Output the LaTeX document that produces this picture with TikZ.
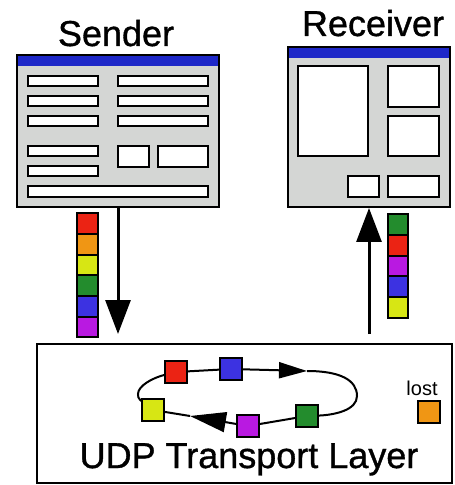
\documentclass[tikz,border=0pt]{standalone}
\usepackage{fontspec}
\setmainfont{Liberation Sans}
\usetikzlibrary{arrows.meta,positioning}

\definecolor{wingray}{RGB}{212,214,212}
\definecolor{barblue}{RGB}{30,40,200}
\definecolor{pred}{RGB}{235,35,20}
\definecolor{porange}{RGB}{240,150,20}
\definecolor{pyellow}{RGB}{215,230,20}
\definecolor{pgreen}{RGB}{35,140,45}
\definecolor{pblue}{RGB}{60,50,225}
\definecolor{ppurple}{RGB}{185,25,225}

\tikzset{
  win/.style={draw,fill=wingray,line width=1pt,inner sep=0pt,
    path picture={\fill[barblue] (path picture bounding box.north west)
      rectangle ([yshift=-5.5pt]path picture bounding box.north east);}},
  field/.style={draw,fill=white,line width=1pt},
  pkt/.style={draw,line width=1pt,minimum size=10.35pt,inner sep=0pt,outer sep=0pt},
  rpkt/.style={pkt,minimum size=11pt},
  flow/.style={line width=1.5pt,-{Triangle[length=17pt,width=12.5pt]}},
  ring/.style={line width=1pt},
  ringtip/.style={ring,-{Triangle[length=14pt,width=8pt]}},
  title/.style={font=\fontsize{18}{20}\selectfont\addfontfeature{FakeBold=1},anchor=base},
}

\begin{document}
\begin{tikzpicture}[x=0.5pt,y=-0.5pt]
\useasboundingbox (0,0) rectangle (454,485);

% sender window
\node[title] (sndlbl) at (116,46) {Sender};
\node[win,minimum width=101pt,minimum height=76pt] (sndwin) at (118,131) {};
\draw[field] (28,76) rectangle (98,86);
\draw[field] (118,76) rectangle (208,86);
\draw[field] (28,96) rectangle (98,106);
\draw[field] (118,96) rectangle (208,106);
\draw[field] (28,116) rectangle (98,126);
\draw[field] (118,116) rectangle (208,126);
\draw[field] (28,146) rectangle (98,156);
\draw[field] (118,146) rectangle (149,167);
\draw[field] (158,146) rectangle (208,167);
\draw[field] (28,166) rectangle (98,176);
\draw[field] (28,186) rectangle (208,197);

% receiver window
\node[title] (rcvlbl) at (373,36) {Receiver};
\node[win,minimum width=81pt,minimum height=80pt] (rcvwin) at (369,127) {};
\draw[field] (298,66) rectangle (368,156);
\draw[field] (388,66) rectangle (439,107);
\draw[field] (388,116) rectangle (439,156);
\draw[field] (348,176) rectangle (379,197);
\draw[field] (388,176) rectangle (439,197);

% transport layer
\node[draw,line width=1pt,minimum width=207.5pt,minimum height=69.5pt,inner sep=0pt] (udp) at (244.5,413.5) {};
\node[title] (udplbl) at (249,468) {UDP Transport Layer};

\draw[flow,shorten >=4.5pt] (sndwin.south) -- (sndwin.south |- udp.north);
\draw[flow,shorten <=4.5pt] (rcvwin.south |- udp.north) -- (rcvwin.south);

% outgoing packets
\node[pkt,fill=pred] (s1) at (87.5,223.5) {};
\node[pkt,fill=porange,below=0pt of s1] (s2) {};
\node[pkt,fill=pyellow,below=0pt of s2] (s3) {};
\node[pkt,fill=pgreen,below=0pt of s3] (s4) {};
\node[pkt,fill=pblue,below=0pt of s4] (s5) {};
\node[pkt,fill=ppurple,below=0pt of s5] (s6) {};

% incoming packets
\node[pkt,fill=pgreen] (q1) at (398,224.5) {};
\node[pkt,fill=pred,below=0pt of q1] (q2) {};
\node[pkt,fill=ppurple,below=0pt of q2] (q3) {};
\node[pkt,fill=pblue,below=0pt of q3] (q4) {};
\node[pkt,fill=pyellow,below=0pt of q4] (q5) {};

% packets in transit
\node[rpkt,fill=pred] (r1) at (176,372) {};
\node[rpkt,fill=pblue] (r2) at (231,369) {};
\node[rpkt,fill=pgreen] (r3) at (307,416) {};
\node[rpkt,fill=ppurple] (r4) at (248,426) {};
\node[rpkt,fill=pyellow] (r5) at (153,410) {};
\node[rpkt,fill=porange] (lostpkt) at (429,412) {};
\node[font=\fontsize{10}{12}\selectfont,anchor=base] (lostlbl) at (422,395) {lost};

\coordinate (tipR) at (307,371);
\coordinate (loopE) at (357,396);
\coordinate (tipL) at (190,416);
\coordinate (loopW) at (138,394);

\draw[ring] (r1) -- (r2);
\draw[ringtip] (r2) -- (tipR);
\draw[ring] (tipR) .. controls (340,371) and (357,380) .. (loopE)
  .. controls (357,410) and (335,415) .. (r3);
\draw[ring] (r3) -- (r4);
\draw[ringtip,-{Triangle[length=18pt,width=10pt]}] (r4) -- (tipL);
\draw[ring] (tipL) -- (r5);
\draw[ring] (r5) .. controls (143,402) and (137,399) .. (loopW)
  .. controls (138,386) and (152,378) .. (r1);

\end{tikzpicture}
\end{document}
